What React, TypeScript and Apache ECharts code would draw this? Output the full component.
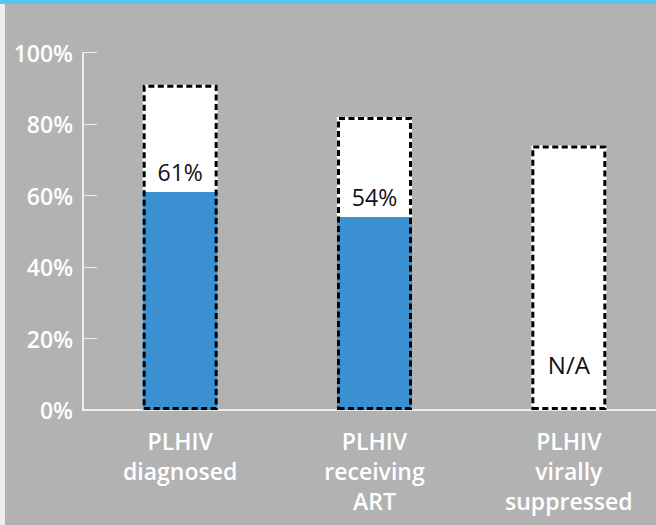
import React, { useEffect, useRef } from "react";
import * as echarts from "echarts";

const categories = ["PLHIV\ndiagnosed", "PLHIV\nreceiving\nART", "PLHIV\nvirally\nsuppressed"];
const targetValues = [91, 82, 74];
const actualValues: (number | null)[] = [61, 54, null];
const yTicks = [0, 20, 40, 60, 80, 100];

const FONT = "'Open Sans', 'Noto Sans', sans-serif";

export default function App() {
  const ref = useRef<HTMLDivElement>(null);
  useEffect(() => {
    document.body.style.margin = "0";
    document.body.style.overflow = "hidden";
    const chart = echarts.init(ref.current!, undefined, { renderer: "svg" });
    const actualData = actualValues.map((v) =>
      v === null
        ? {
            value: 0,
            label: {
              show: true,
              formatter: "N/A",
              position: "top",
              distance: 34,
              fontSize: 24,
            },
          }
        : { value: v }
    );
    chart.setOption({
      animation: false,
      backgroundColor: "#b2b2b2",
      graphic: [
        { type: "rect", left: 0, top: 0, shape: { width: 680, height: 4 }, style: { fill: "#5bc4ef" }, z: 10 },
        { type: "rect", left: 0, top: 4, shape: { width: 5, height: 521 }, style: { fill: "#ededed" }, z: 10 },
      ],
      grid: { left: 83, right: 0, top: 52.7, bottom: 115, containLabel: false },
      xAxis: {
        type: "category",
        data: categories,
        axisLine: { show: true, lineStyle: { color: "#ffffff", width: 1.5 } },
        axisTick: { show: false },
        axisLabel: {
          color: "#ffffff",
          fontFamily: FONT,
          fontSize: 23,
          fontWeight: 600,
          lineHeight: 30,
          margin: 16,
          interval: 0,
        },
      },
      yAxis: {
        type: "value",
        min: yTicks[0],
        max: yTicks[yTicks.length - 1],
        interval: 20,
        splitLine: { show: false },
        axisLine: { show: true, lineStyle: { color: "#ffffff", width: 1.5 } },
        axisTick: { show: true, inside: true, length: 14, lineStyle: { color: "#eeeeee", width: 1 } },
        axisLabel: {
          color: "#ffffff",
          fontFamily: FONT,
          fontSize: 23,
          fontWeight: 600,
          margin: 10,
          formatter: "{value}%",
        },
      },
      series: [
        {
          type: "bar",
          data: targetValues,
          barWidth: 75,
          barGap: "-100%",
          itemStyle: { color: "#ffffff" },
          z: 1,
        },
        {
          type: "bar",
          data: actualData,
          barWidth: 75,
          barGap: "-100%",
          itemStyle: { color: "#3a90d1" },
          label: {
            show: true,
            position: "top",
            distance: 9,
            formatter: "{c}%",
            color: "#111111",
            fontFamily: FONT,
            fontSize: 23,
          },
          z: 2,
        },
        {
          type: "bar",
          data: targetValues,
          barWidth: 75,
          barGap: "-100%",
          itemStyle: {
            color: "rgba(0,0,0,0)",
            borderColor: "#000000",
            borderWidth: 3,
            borderType: [6, 3.5],
          },
          z: 3,
          silent: true,
        },
      ],
    });
    return () => chart.dispose();
  }, []);
  return (
    <div style={{ width: 656, height: 525, overflow: "hidden" }}>
      <div ref={ref} style={{ width: 666, height: 525 }} />
    </div>
  );
}
